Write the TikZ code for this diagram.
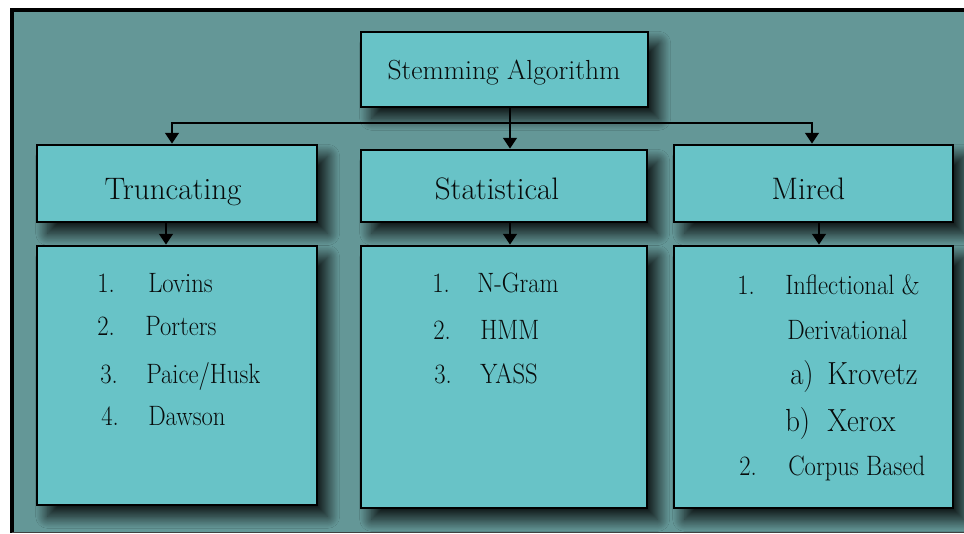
\documentclass[tikz,border=0pt]{standalone}
\usepackage{graphicx}
\usetikzlibrary{arrows.meta,shadows.blur}

\definecolor{panel}{RGB}{100,151,151}
\definecolor{boxfill}{RGB}{104,195,199}
\definecolor{ink}{RGB}{8,12,12}

% condensed text for the list entries
\newcommand{\cond}[1]{\scalebox{0.88}[1]{#1}}
\newcommand{\condb}[1]{\scalebox{0.9}[1]{#1}}

\begin{document}
\begin{tikzpicture}[x=0.75pt,y=-0.75pt,
  >={Triangle[width=10pt,length=8pt]},
  box/.style={draw=black, line width=2pt, fill=boxfill, inner sep=0pt,
    blur shadow={shadow xshift=8pt, shadow yshift=-8.5pt,
      shadow blur radius=9pt, shadow opacity=88, shadow blur steps=30}},
  title/.style={anchor=base, inner sep=0pt, text=ink,
    font=\fontsize{23.3}{27}\selectfont},
  entry/.style={anchor=base west, inner sep=0pt, text=ink,
    font=\fontsize{21}{25}\selectfont},
  bigentry/.style={anchor=base west, inner sep=0pt, text=ink,
    font=\fontsize{24}{28}\selectfont},
  link/.style={line width=2pt, line join=miter, ->},
  twolink/.style={line width=2pt, line join=miter, <->},
]
\useasboundingbox (0,0) rectangle (964,534);

% page and frame
\fill[white] (0,0) rectangle (964,534);
\fill[panel] (12,10) rectangle (964,532.5);
\draw[line width=3pt] (12,533) -- (12,10) -- (964,10);
\draw[line width=0.8pt, black!75] (12,532.8) -- (964,532.8);

% boxes
\node[box, minimum width=215.25pt, minimum height=56.25pt] (top)    at (504.5,69.5) {};
\node[box, minimum width=210pt,    minimum height=57.75pt] (trunc)  at (177,183.5) {};
\node[box, minimum width=214.5pt,  minimum height=54pt]    (stat)   at (504,186) {};
\node[box, minimum width=209.25pt, minimum height=57.75pt] (mired)  at (813.5,183.5) {};
\node[box, minimum width=210pt,    minimum height=194.25pt] (truncL) at (177,375.5) {};
\node[box, minimum width=214.5pt,  minimum height=196.5pt] (statL)  at (504,377) {};
\node[box, minimum width=209.25pt, minimum height=196.5pt] (miredL) at (813.5,377) {};

% headings
\node[title, font=\fontsize{20.7}{24}\selectfont] (tTop) at (504,80) {Stemming Algorithm};
\node[title] (tTrunc) at (173,199.5) {Truncating};
\node[title] (tStat)  at (497,199.5) {Statistical};
\node[title] (tMired) at (808.5,200) {Mired};

% connectors
\coordinate (split) at (510,123);
\coordinate (lt) at (172,123);
\coordinate (rt) at (812,123);
\draw[link] (top.south -| split) -- (stat.north -| split);
\draw[twolink]
  (trunc.north -| lt) -- (lt) -- (rt) -- (mired.north -| rt);

\coordinate (ta) at (166,0);
\coordinate (sa) at (510,0);
\coordinate (ma) at (819,0);
\draw[link] (trunc.south -| ta) -- (truncL.north -| ta);
\draw[link] (stat.south -| sa) -- (statL.north -| sa);
\draw[link] (mired.south -| ma) -- (miredL.north -| ma);

% truncating stemmers
\node[entry] (n1) at (97,292.7)  {\cond{1.}};
\node[entry] (e1) at (148,292.7) {\cond{Lovins}};
\node[entry] (n2) at (97,336)    {\cond{2.}};
\node[entry] (e2) at (145,336)   {\cond{Porters}};
\node[entry] (n3) at (100,384)   {\cond{3.}};
\node[entry] (e3) at (146,384)   {\cond{Paice/Husk}};
\node[entry] (n4) at (101,426)   {\cond{4.}};
\node[entry] (e4) at (148,426)   {\cond{Dawson}};

% statistical stemmers
\node[entry] (s1n) at (432,292.7) {\cond{1.}};
\node[entry] (s1)  at (477,292.7) {\cond{N-Gram}};
\node[entry] (s2n) at (433,340)   {\cond{2.}};
\node[entry] (s2)  at (480,340)   {\cond{HMM}};
\node[entry] (s3n) at (434,384)   {\cond{3.}};
\node[entry] (s3)  at (480,384)   {\cond{YASS}};

% mixed stemmers
\node[entry] (m1n) at (737,295) {\cond{1.}};
\node[entry] (m1)  at (785,295) {\cond{Inflectional \&}};
\node[entry] (m1b) at (787,340) {\cond{Derivational}};
\node[bigentry] (maL) at (790,385) {\condb{a)}};
\node[bigentry] (ma)  at (827,385) {\condb{Krovetz}};
\node[bigentry] (mbL) at (785,432) {\condb{b)}};
\node[bigentry] (mb)  at (827,432) {\condb{Xerox}};
\node[entry] (m2n) at (739,475) {\cond{2.}};
\node[entry] (m2)  at (788,475) {\cond{Corpus Based}};
\end{tikzpicture}
\end{document}
